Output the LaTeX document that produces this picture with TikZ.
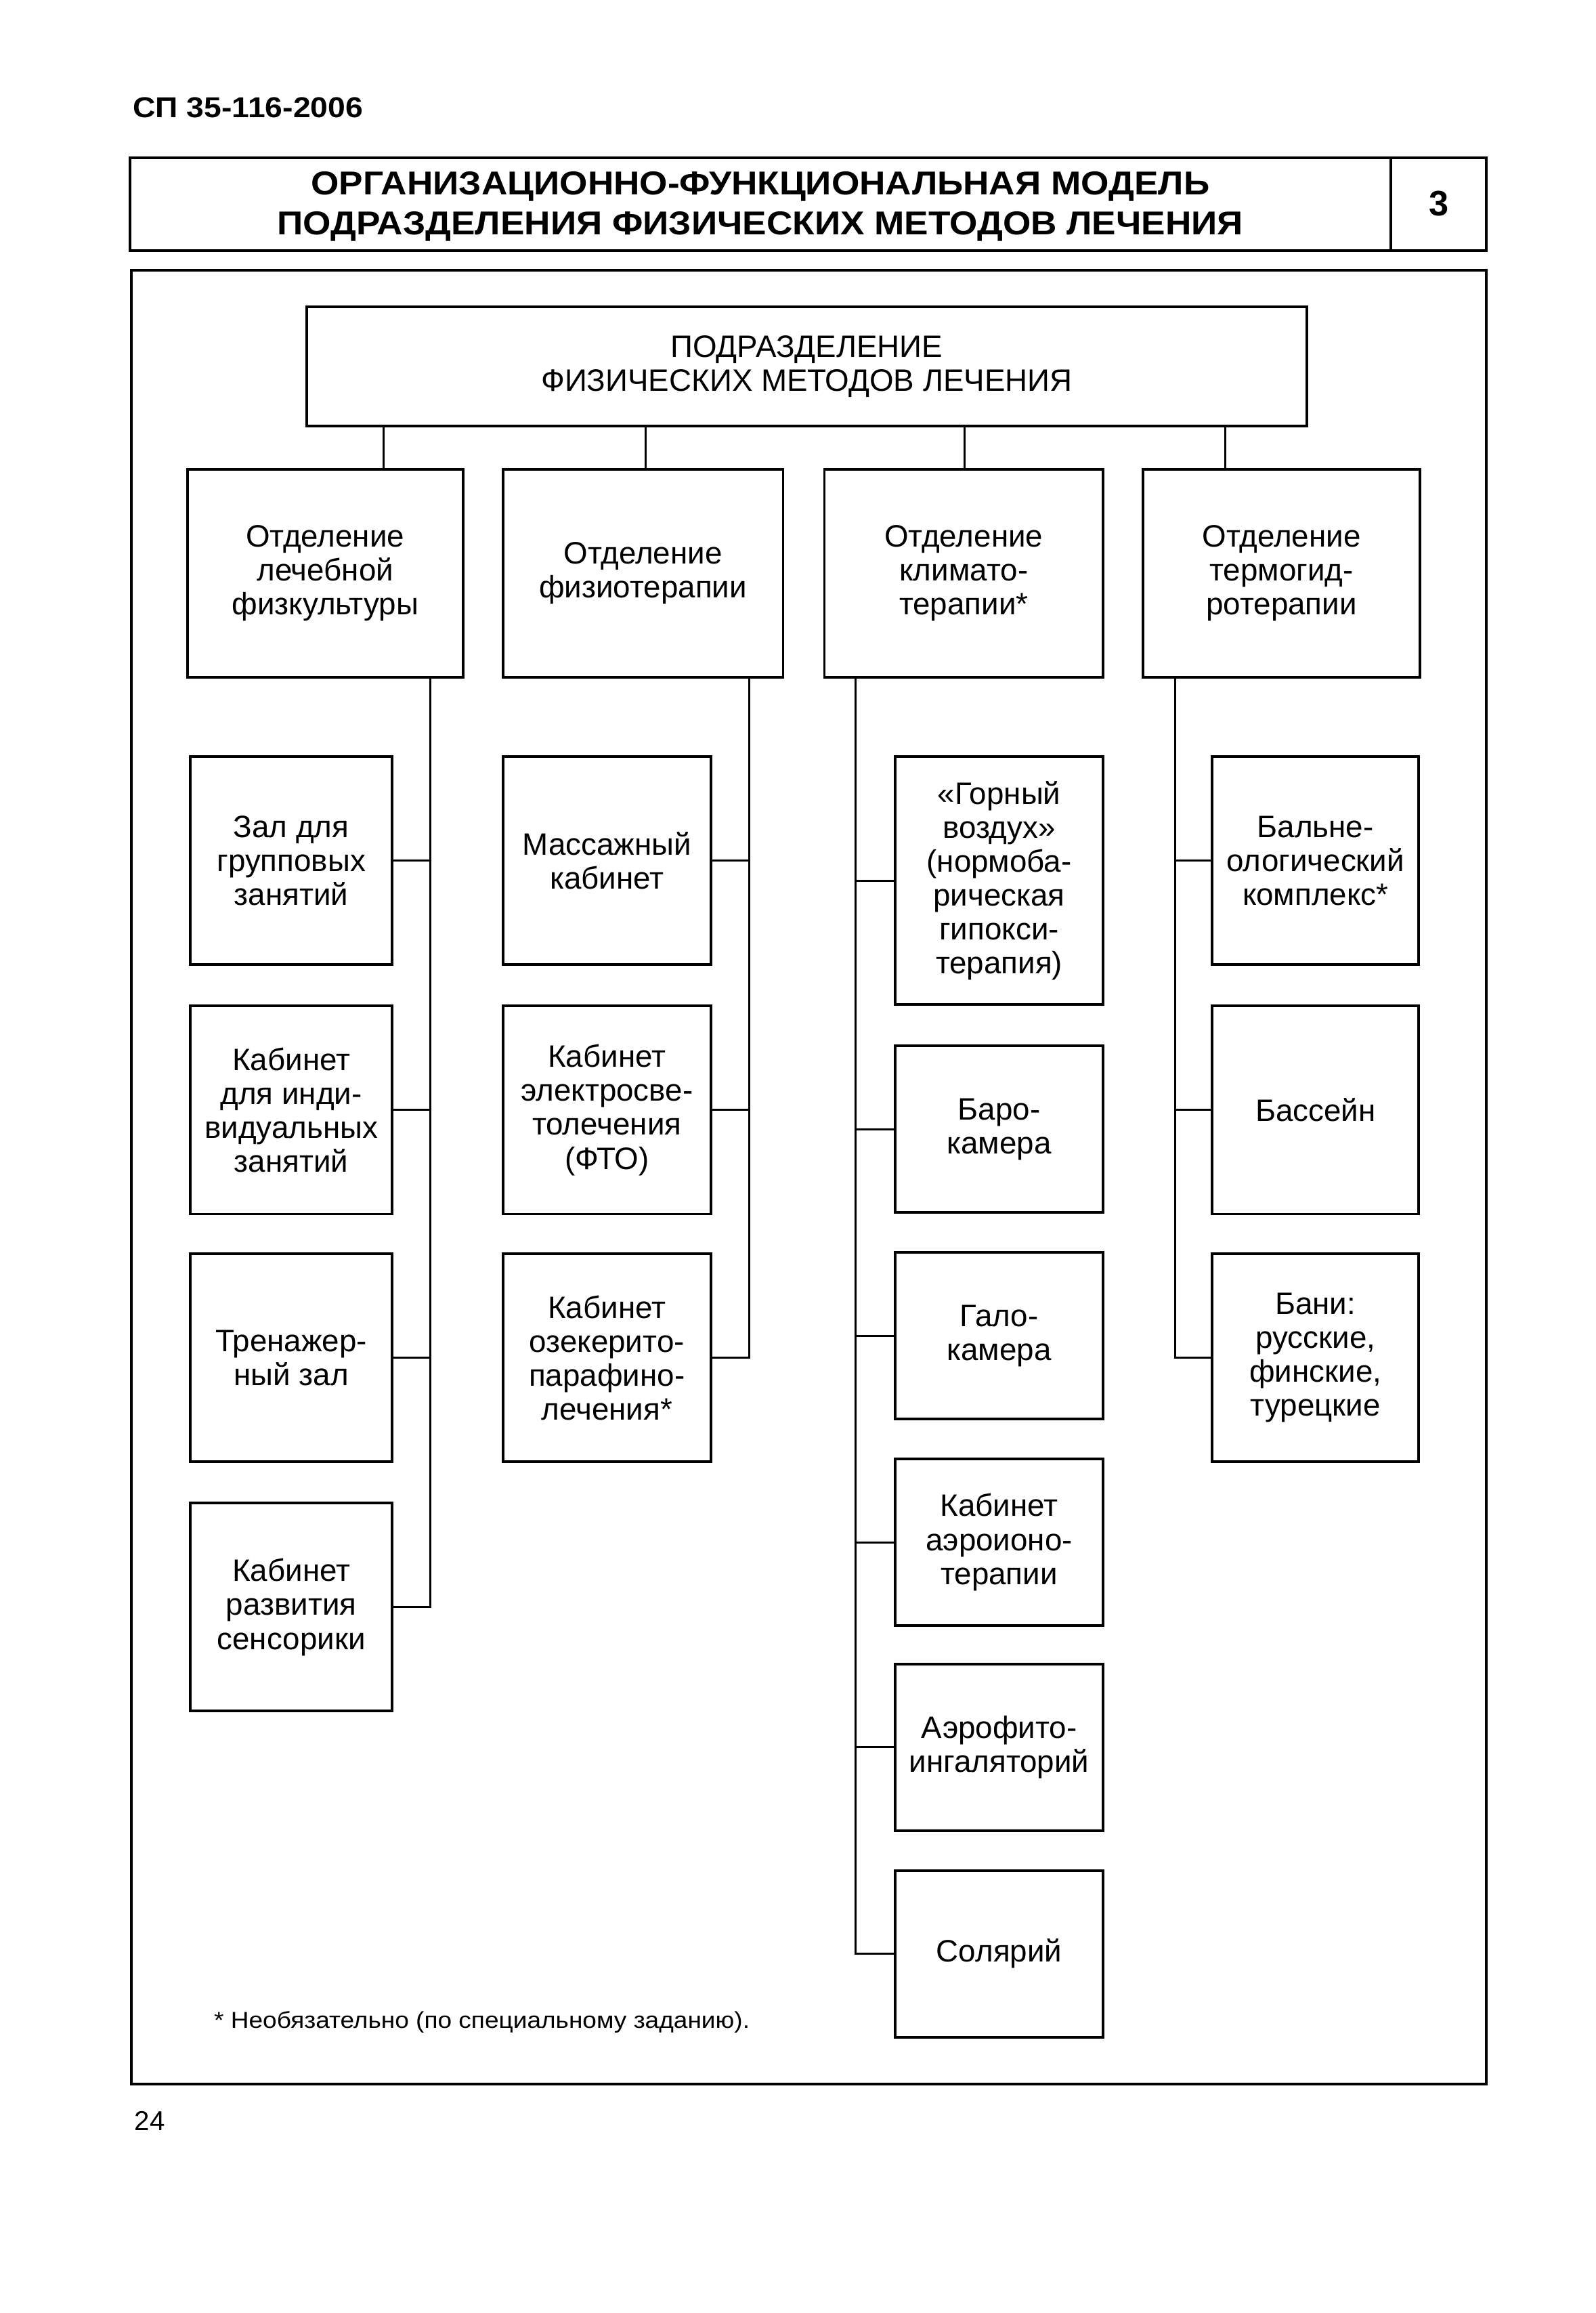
\documentclass[tikz,border=0pt]{standalone}
\usepackage{fontspec}
\setmainfont{Liberation Sans}
\newfontfamily\widefont{Liberation Sans}[FakeStretch=1.09]
\usetikzlibrary{fit}
\newcommand\fsbox{\fontsize{21}{23}\selectfont}
\newcommand\fstitle{\widefont\fontsize{22.4}{27}\selectfont\bfseries}
\newcommand\tsh{0pt}
\newcommand\bx[6]{\node[box, fit={(#2,#3) (#4,#5)}] (#1) {};
  \node[txt] (#1t) at ([yshift=\tsh]#1.center) {#6};}
\begin{document}
\begin{tikzpicture}[x=1pt,y=-1pt,
  box/.style={draw, line width=1.8pt, inner sep=0pt},
  txt/.style={align=center, inner sep=0pt, font=\fsbox},
  frame/.style={draw, line width=1.8pt, inner sep=0pt},
  conn/.style={line width=1.4pt},
  plain/.style={inner sep=0pt}]
\useasboundingbox (0,0) rectangle (1082.2,1568);
% header
\node[plain, anchor=west, font=\widefont\fontsize{19.5}{21}\selectfont\bfseries] (code) at (90,73) {СП 35-116-2006};
\node[frame, fit={(88,107) (943,170)}] (title) {};
\node[plain, align=center, font=\fstitle] (titlet) at ([yshift=-1.5pt]title.center) {ОРГАНИЗАЦИОННО-ФУНКЦИОНАЛЬНАЯ МОДЕЛЬ\\ПОДРАЗДЕЛЕНИЯ ФИЗИЧЕСКИХ МЕТОДОВ ЛЕЧЕНИЯ};
\node[frame, fit={(943,107) (1008,170)}] (num) {};
\node[plain, font=\fontsize{24}{26}\selectfont\bfseries] (numt) at ([yshift=0.5pt]num.center) {3};
\node[frame, fit={(89,183) (1008,1413)}] (frm) {};
% top node
\bx{top}{208}{208}{886}{289}{ПОДРАЗДЕЛЕНИЕ\\ФИЗИЧЕСКИХ МЕТОДОВ ЛЕЧЕНИЯ}
% level 2
\bx{A}{127}{318}{314}{459}{Отделение\\лечебной\\физкультуры}
\bx{B}{341}{318}{531}{459}{Отделение\\физиотерапии}
\bx{C}{559}{318}{748}{459}{Отделение\\климато-\\терапии*}
\bx{D}{775}{318}{963}{459}{Отделение\\термогид-\\ротерапии}
\coordinate (tA) at (260,0);
\coordinate (tB) at (438,0);
\coordinate (tC) at (654,0);
\coordinate (tD) at (831,0);
\foreach \n/\t in {A/tA,B/tB,C/tC,D/tD}
  \draw[conn] (top.south -| \t) -- (\n.north -| \t);
% column A
\bx{a1}{129}{513}{266}{654}{Зал для\\групповых\\занятий}
\bx{a2}{129}{682}{266}{823}{Кабинет\\для инди-\\видуальных\\занятий}
\bx{a3}{129}{850}{266}{991}{Тренажер-\\ный зал}
\bx{a4}{129}{1019}{266}{1160}{Кабинет\\развития\\сенсорики}
\coordinate (trA) at (292,0);
\draw[conn] (A.south -| trA) |- (a4.east);
\foreach \n in {a1,a2,a3} \draw[conn] (\n.east) -- (\n.east -| trA);
% column B
\bx{b1}{341}{513}{482}{654}{Массажный\\кабинет}
\bx{b2}{341}{682}{482}{823}{Кабинет\\электросве-\\толечения\\(ФТО)}
\bx{b3}{341}{850}{482}{991}{Кабинет\\озекерито-\\парафино-\\лечения*}
\coordinate (trB) at (508,0);
\draw[conn] (B.south -| trB) |- (b3.east);
\foreach \n in {b1,b2} \draw[conn] (\n.east) -- (\n.east -| trB);
% column C
\bx{c1}{607}{513}{748}{681}{«Горный\\воздух»\\(нормоба-\\рическая\\гипокси-\\терапия)}
\bx{c2}{607}{709}{748}{822}{Баро-\\камера}
\bx{c3}{607}{849}{748}{962}{Гало-\\камера}
\bx{c4}{607}{989}{748}{1102}{Кабинет\\аэроионо-\\терапии}
\bx{c5}{607}{1128}{748}{1241}{Аэрофито-\\ингаляторий}
\bx{c6}{607}{1268}{748}{1381}{Солярий}
\coordinate (trC) at (580,0);
\draw[conn] (C.south -| trC) |- (c6.west);
\foreach \n in {c1,c2,c3,c4,c5} \draw[conn] (\n.west) -- (\n.west -| trC);
% column D
\bx{d1}{822}{513}{962}{654}{Бальне-\\ологический\\комплекс*}
\bx{d2}{822}{682}{962}{823}{Бассейн}
\bx{d3}{822}{850}{962}{991}{Бани:\\русские,\\финские,\\турецкие}
\coordinate (trD) at (797,0);
\draw[conn] (D.south -| trD) |- (d3.west);
\foreach \n in {d1,d2} \draw[conn] (\n.west) -- (\n.west -| trD);
% footnote and page number
\node[plain, anchor=west, font=\widefont\fontsize{15.6}{17}\selectfont] (note) at (145,1371) {* Необязательно (по специальному заданию).};
\node[plain, anchor=west, font=\fontsize{18.5}{20}\selectfont] (page) at (91,1438) {24};
\end{tikzpicture}
\end{document}
